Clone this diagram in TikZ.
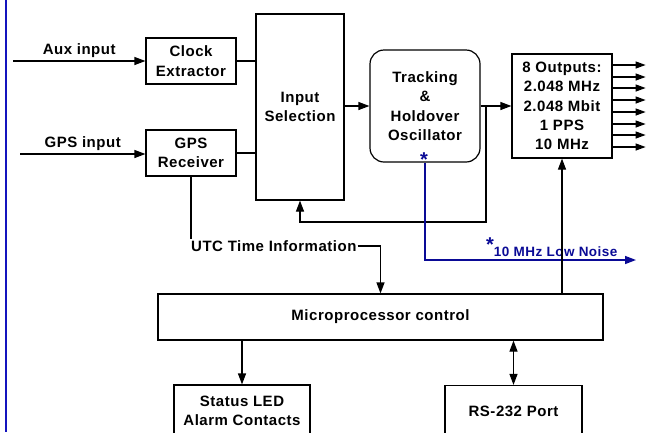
\documentclass[tikz,border=0pt]{standalone}
\usepackage{fontspec}
\setmainfont{Liberation Sans}[LetterSpace=3.5]
\usetikzlibrary{positioning, arrows.meta}
\definecolor{lowblue}{RGB}{10,10,150}
\definecolor{edgeblue}{RGB}{20,20,190}

\begin{document}
\begin{tikzpicture}[
x=1pt, y=-1pt,
>={Triangle[length=11pt,width=8pt]},
box/.style={
draw,
line width=1.2pt,
minimum height=46pt,
align=center,
inner sep=0pt,
font=\fontsize{15}{19.5}\selectfont\bfseries
},
tag/.style={font=\fontsize{15}{18}\selectfont\bfseries, inner sep=1pt},
wire/.style={line width=1.2pt},
lownoise/.style={draw=lowblue, line width=1.5pt}
]
\fill[white] (0,0) rectangle (648,432);
\useasboundingbox (0,0) rectangle (648,432);
\draw[edgeblue, line width=2pt] (5.5,0) -- (5.5,432);

% blocks
\node[box, minimum width=90pt] (clk) at (191,61) {Clock\\Extractor};
\node[box, minimum width=90pt] (gps) at (191,153) {GPS\\Receiver};
\node[box, minimum width=88pt, minimum height=186pt] (sel) at (300,107) {Input\\Selection};
\node[box, minimum width=110pt, minimum height=112pt, rounded corners=14pt] (trk) at (425,106) {Tracking\\\&\\Holdover\\Oscillator};
\node[box, minimum width=100pt, minimum height=104pt, font=\fontsize{15}{19.3}\selectfont\bfseries] (outs) at (562,106) {8 Outputs:\\2.048 MHz\\2.048 Mbit\\1 PPS\\10 MHz};
\node[box, minimum width=445pt] (mpu) at (380.5,317) {Microprocessor control};
\node[box, minimum width=136pt, minimum height=52pt] (led) at (242,411) {Status LED\\Alarm Contacts};
\node[box, minimum width=137pt, minimum height=52pt] (rs) at (513.5,411.5) {RS-232 Port};

% inputs
\coordinate (auxin) at (13,61);
\coordinate (gpsin) at (20,154);
\draw[wire,->] (auxin) -- node[tag, above=2pt] {Aux input} (clk.west);
\draw[wire,->] (gpsin) -- node[tag, above=2pt] {GPS input} (gps.west |- gpsin);
\draw[wire] (clk.east) -- (clk.east -| sel.west);
\draw[wire] (gps.east) -- (gps.east -| sel.west);

% main path
\draw[wire,->] (trk.west -| sel.east) -- (trk.west);
\draw[wire,->] (trk.east) -- (outs.west |- trk.east);
\foreach \yy in {65,77,88,100,112,124,135,147}
\draw[wire,->,>={Triangle[length=10pt,width=7pt]}] (outs.east |- 0,\yy) -- ++(33,0);

% feedback
\coordinate (fb) at (486,106);
\coordinate (fbturn) at (486,222);
\draw[wire,->] (fb) -- (fbturn) -| (sel.south);

% low noise output
\node[text=lowblue, font=\fontsize{20}{20}\selectfont\bfseries, inner sep=0pt, anchor=base] (ast) at (424,166) {*};
\coordinate (lnout) at (636,260);
\draw[lownoise,->,>={Triangle[length=11pt,width=8pt]}] (trk.south) |- (lnout);
\node[tag, text=lowblue, font=\fontsize{13.5}{16}\selectfont\bfseries, anchor=base west, inner sep=0pt] (lnlabel) at (486,256) {\raisebox{5pt}{\fontsize{20}{20}\selectfont *}10 MHz Low Noise};

% control
\node[tag, anchor=west] (utc) at (190,246) {UTC Time Information};
\draw[wire] (gps.south) -- (gps.south |- utc.north west);
\draw[wire,->] (utc.east) -| (mpu.north);
\draw[wire,->] (mpu.north -| outs.south) -- (outs.south);
\draw[wire,->] (mpu.south -| led.north) -- (led.north);
\draw[wire,<->] (mpu.south -| rs.north) -- (rs.north);
\end{tikzpicture}
\end{document}
